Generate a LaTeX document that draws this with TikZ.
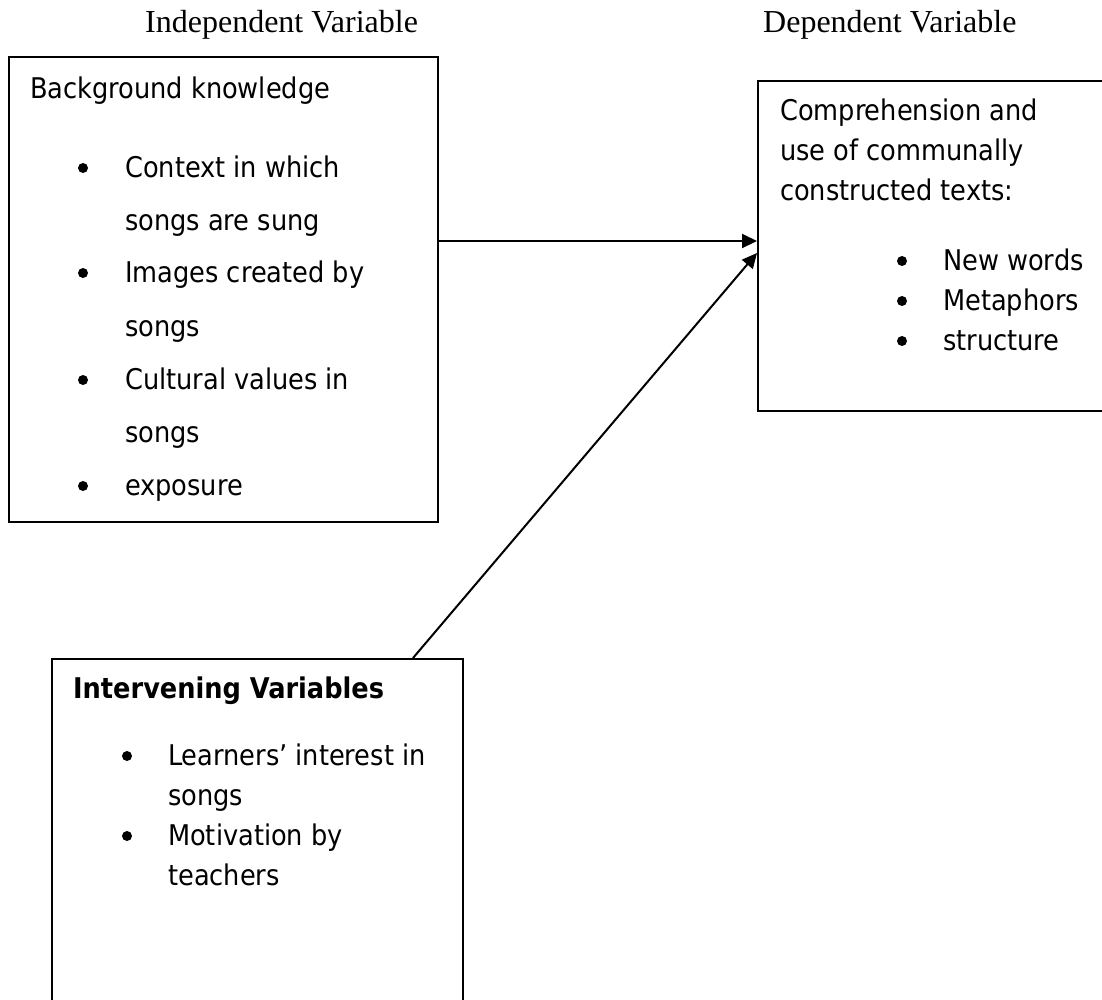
\documentclass[tikz,border=0pt]{standalone}
\usepackage{fontspec}
\setmainfont{DejaVu Sans Condensed}
\newfontfamily\hdrfont{Liberation Serif}
\usetikzlibrary{arrows.meta}
\begin{document}
\begin{tikzpicture}[x=1pt,y=-1pt,
  box/.style={draw,line width=2pt,rectangle,inner sep=0pt},
  txt/.style={anchor=base west,inner sep=0pt,font=\fontsize{28.5}{30}\selectfont},
  btxt/.style={anchor=base west,inner sep=0pt,font=\bfseries\fontsize{28.5}{30}\selectfont},
  bul/.style={circle,fill,inner sep=0pt,minimum size=10pt},
  hdr/.style={anchor=base west,inner sep=0pt,font=\hdrfont\fontsize{32}{34}\selectfont},
  conn/.style={line width=2pt,-{Triangle[length=15pt,width=14pt]}}]
\clip (0,0) rectangle (1102,999);
\fill[white] (0,0) rectangle (1102,999);
% headers
\node[hdr] (hi) at (145,32) {Independent Variable};
\node[hdr] (hd) at (763,32) {Dependent Variable};
% boxes
\node[box,minimum width=429pt,minimum height=465pt] (lb) at (223.5,289.5) {};
\node[box,minimum width=362pt,minimum height=330pt] (rb) at (939,246) {};
\node[box,minimum width=411pt,minimum height=381pt] (ib) at (257.5,849.5) {};
% left box text
\node[txt] (l0) at (30,98) {Background knowledge};
\node[bul] (lb1) at (83,168) {};
\node[txt] (l1) at (125,177) {Context in which};
\node[txt] (l2) at (125,230) {songs are sung};
\node[bul] (lb2) at (83,273) {};
\node[txt] (l3) at (125,282) {Images created by};
\node[txt] (l4) at (125,336) {songs};
\node[bul] (lb3) at (83,380) {};
\node[txt] (l5) at (125,389) {Cultural values in};
\node[txt] (l6) at (125,442) {songs};
\node[bul] (lb4) at (83,486) {};
\node[txt] (l7) at (125,495) {exposure};
% right box text
\node[txt] (r0) at (780,120) {Comprehension and};
\node[txt] (r1) at (780,160) {use of communally};
\node[txt] (r2) at (780,200) {constructed texts:};
\node[bul] (rb1) at (902,261) {};
\node[txt] (r3) at (943,270) {New words};
\node[bul] (rb2) at (902,301) {};
\node[txt] (r4) at (943,310) {Metaphors};
\node[bul] (rb3) at (902,341) {};
\node[txt] (r5) at (943,350) {structure};
% intervening box text
\node[btxt] (i0) at (73,698) {Intervening Variables};
\node[bul] (ib1) at (127,756) {};
\node[txt] (i1) at (168,765) {Learners’ interest in};
\node[txt] (i2) at (168,805) {songs};
\node[bul] (ib2) at (127,836) {};
\node[txt] (i3) at (168,845) {Motivation by};
\node[txt] (i4) at (168,885) {teachers};
% connectors
\coordinate (hy) at (0,241);
\coordinate (dy) at (0,253);
\coordinate (dx) at (413,0);
\draw[conn] (lb.east |- hy) -- (rb.west |- hy);
\draw[conn] (ib.north -| dx) -- (rb.west |- dy);
\end{tikzpicture}
\end{document}
